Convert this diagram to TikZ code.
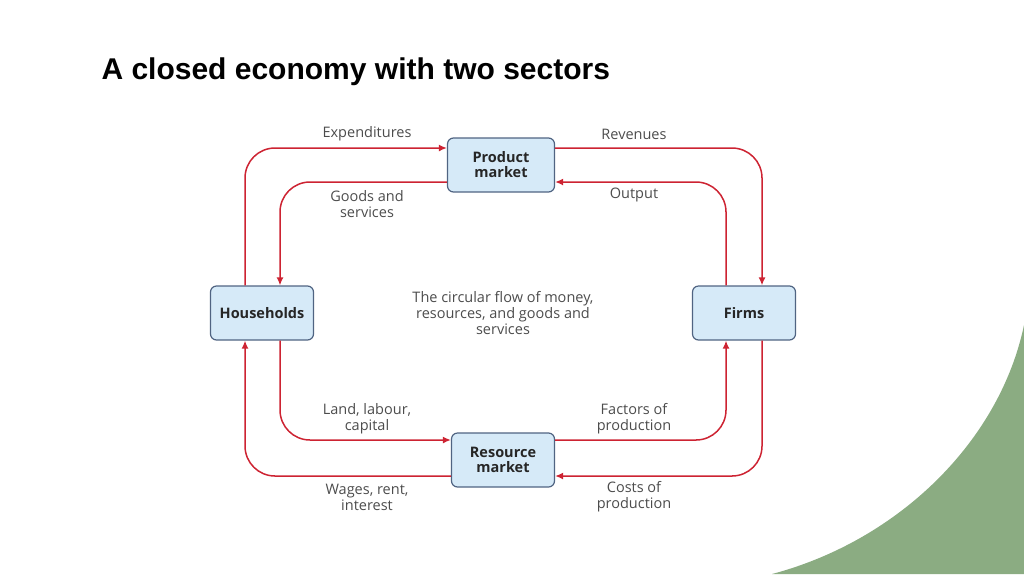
\documentclass[tikz,border=0pt]{standalone}
\usepackage{fontspec}
\setmainfont{Open Sans}
\newfontfamily\titlefont{Liberation Sans}
\usetikzlibrary{arrows.meta}
\definecolor{flow}{RGB}{205,35,50}
\definecolor{boxfill}{RGB}{214,234,248}
\definecolor{boxline}{RGB}{80,100,130}
\definecolor{green}{RGB}{139,172,130}
\begin{document}
\begin{tikzpicture}[x=1pt,y=-1pt,
  mkt/.style={draw=boxline,fill=boxfill,rounded corners=6pt,line width=1.2pt,minimum height=54pt,align=center,font=\fontsize{14.5}{15}\selectfont\bfseries,text=black!85},
  flowline/.style={draw=flow,line width=1.5pt,rounded corners=30pt,-{Latex[length=8pt,width=7pt]}},
  lbl/.style={font=\fontsize{14.5}{16}\selectfont,text=black!70,align=center}]
\useasboundingbox (0,0) rectangle (1024,574);
\fill[green] (1024,325) .. controls (1000,440) and (900,540) .. (772,574) -- (1024,574) -- cycle;
\node[anchor=base west,font=\titlefont\fontsize{30}{32}\selectfont\bfseries] (title) at (98,79) {A closed economy with two sectors};
\node[mkt,minimum width=107pt] (pm) at (501,165) {Product\\market};
\node[mkt,minimum width=103pt] (hh) at (262,313) {Households};
\node[mkt,minimum width=103pt] (fi) at (744,313) {Firms};
\node[mkt,minimum width=103pt] (rm) at (503,460) {Resource\\market};
\coordinate (hhA) at (245,0); \coordinate (hhB) at (280,0);
\coordinate (fiA) at (726,0); \coordinate (fiB) at (762,0);
\draw[flowline] (hh.north -| hhA) |- (pm.west |- 0,148);
\draw[flowline] (pm.west |- 0,182) -| (hh.north -| hhB);
\draw[flowline] (pm.east |- 0,148) -| (fi.north -| fiB);
\draw[flowline] (fi.north -| fiA) |- (pm.east |- 0,182);
\draw[flowline] (hh.south -| hhB) |- (rm.west |- 0,440);
\draw[flowline] (rm.west |- 0,476) -| (hh.south -| hhA);
\draw[flowline] (rm.east |- 0,440) -| (fi.south -| fiA);
\draw[flowline] (fi.south -| fiB) |- (rm.east |- 0,476);
\node[lbl] (l1) at (367,134) {Expenditures};
\node[lbl] (l2) at (634,134) {Revenues};
\node[lbl] (l3) at (367,204) {Goods and\\services};
\node[lbl] (l4) at (634,195) {Output};
\node[lbl] (c) at (503,313) {The circular flow of money,\\resources, and goods and\\services};
\node[lbl] (l5) at (367,419) {Land, labour,\\capital};
\node[lbl] (l6) at (634,419) {Factors of\\production};
\node[lbl] (l7) at (367,497) {Wages, rent,\\interest};
\node[lbl] (l8) at (634,497) {Costs of\\production};
\end{tikzpicture}
\end{document}
